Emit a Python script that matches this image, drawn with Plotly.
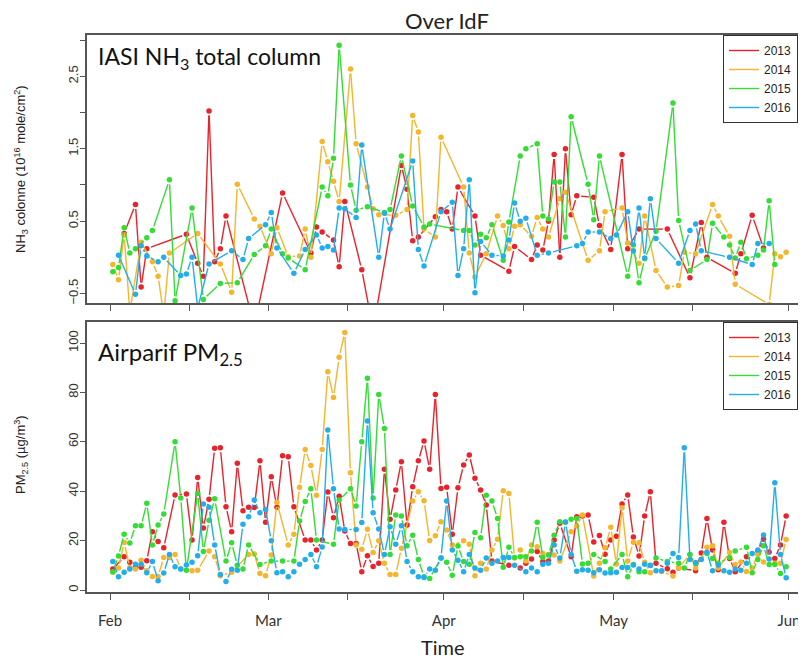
import math
from datetime import datetime, timedelta
import plotly.graph_objects as go

# ---------------- data (day index from 1 Feb, value) ----------------
years = ["2013", "2014", "2015", "2016"]
colors = ["#e8232b", "#f5b52c", "#33dd33", "#22aeea"]

nh3_2013_day = [2,4,5,6,13,15,16,17,18,19,20,25,30,35,36,37,39,40,41,44,46,51,52,53,54,57,58,59,60,61,64,65,70,71,74,75,76,77,78,79,80,81,82,85,86,88,90,91,93,98,102,104,105,110,111,113,115]
nh3_2013_val = [0.33,0.73,-0.41,0.12,0.32,-0.08,-0.26,2.02,-0.06,0.12,0.57,-0.95,0.89,0.06,0.42,0.35,0.24,-0.13,0.77,-0.17,-1.0,1.27,0.94,0.23,0.28,0.56,0.66,0.63,0.39,0.97,0.57,0.03,-0.19,0.15,-0.03,0.17,0.10,0.50,1.42,0.0,1.5,0.59,0.85,0.83,0.44,0.11,1.42,0.12,0.39,0.39,-0.28,0.48,0.0,-0.22,0.05,0.58,0.13]

nh3_2014_day = [0,1,2,3,5,7,8,9,10,15,19,21,22,25,26,28,29,31,33,34,35,37,38,39,40,42,43,45,46,47,50,52,53,54,55,57,58,62,63,64,66,68,69,70,71,72,74,75,76,77,79,80,84,86,87,90,91,93,94,96,98,100,101,103,106,107,109,110,116,117,118,119]
nh3_2014_val = [-0.10,-0.31,0.31,-0.75,0.21,-0.06,-0.26,-0.8,0.06,0.33,-0.09,-0.48,1.01,0.53,0.43,0.05,0.41,0.01,0.02,0.39,0.0,1.6,1.32,1.05,0.77,2.6,1.57,0.97,0.67,0.59,0.58,0.66,1.96,1.73,0.39,0.28,1.66,0.97,0.06,-0.27,0.05,0.57,0.44,0.12,0.43,0.45,0.29,0.55,0.39,0.28,0.81,0.9,-0.04,0.09,0.63,0.68,0.2,-0.08,0.57,-0.18,-0.41,-0.39,0.07,0.05,0.73,0.57,0.29,-0.37,-0.65,0.05,0.01,0.07]

nh3_2015_day = [0,1,2,3,4,6,7,10,11,14,16,19,22,25,27,28,30,31,34,37,38,39,40,42,43,45,48,49,51,53,55,56,62,63,64,65,66,67,69,70,72,73,75,76,77,78,79,80,81,84,85,86,91,92,93,94,96,99,100,102,105,106,108,109,110,111,112,114,115,116,117]
nh3_2015_val = [-0.20,-0.14,0.41,0.06,0.12,0.27,0.37,1.07,-0.6,0.68,-0.58,-0.36,-0.35,0.04,0.16,0.39,0.05,-0.01,-0.17,0.97,0.85,1.37,2.93,1.0,0.65,0.7,0.62,0.66,1.4,0.71,0.42,0.46,0.37,0.37,0.17,0.32,0.27,0.45,-0.04,0.49,1.4,1.5,1.57,0.57,0.53,1.04,1.04,0.28,1.94,1.01,0.52,1.4,-0.26,0.17,-0.35,-0.02,0.36,2.13,0.51,-0.18,-0.03,0.47,0.28,0.17,-0.01,0.21,-0.02,0.03,0.1,0.78,-0.1]

nh3_2016_day = [1,4,5,6,8,9,12,13,14,15,17,21,23,24,27,28,29,32,34,36,37,38,39,40,41,43,44,47,48,49,53,54,55,58,60,61,62,63,64,65,67,69,70,71,72,73,75,77,82,83,84,86,88,89,91,92,93,94,95,96,100,102,103,104,109,113,114,116]
nh3_2016_val = [0.03,-0.51,0.16,0.02,-0.06,0.0,-0.25,-0.23,0.0,-0.7,-0.09,0.09,-0.03,0.26,0.45,0.62,0.13,-0.22,0.11,0.31,0.13,0.15,0.1,0.68,0.67,0.55,1.55,0.0,0.61,0.39,1.33,0.11,-0.12,0.63,0.76,-0.25,0.12,1.07,-0.49,0.22,0.03,0.02,0.24,0.75,0.5,0.54,0.03,0.06,0.16,0.19,0.35,0.35,0.26,0.31,0.63,0.09,0.68,-0.01,0.81,0.26,-0.08,0.37,0.46,0.09,0.0,-0.10,0.19,0.19]

pm_2013_day = [0,2,3,4,5,6,7,8,9,11,13,14,15,16,17,18,19,20,21,22,23,24,25,26,27,28,29,30,31,32,34,35,36,37,38,39,40,41,42,43,44,45,46,47,48,49,50,51,52,53,54,55,56,57,58,59,60,61,62,63,64,65,66,67,70,72,73,74,75,76,77,78,79,81,82,83,84,85,86,87,88,89,90,91,92,93,94,95,96,98,99,100,103,104,105,106,107,108,109,110,112,114,115,116,117,118,119]
pm_2013_val = [8.5,13.5,11.2,9.1,9.2,11.8,23.6,19.6,17.1,38.5,38.9,20.2,45.6,25.1,36.7,57.4,57.6,33.7,23.6,51.3,32.1,33.5,33.4,52.3,27.4,45.9,33.5,54.4,54.0,33.7,20.2,20.2,16.2,20.2,39.7,29.3,38.0,23.9,18.8,18.8,7.4,13.9,9.5,10.8,48.9,28.6,40.5,51.9,26.3,41.8,52.3,60.3,48.9,79.2,41.1,41.6,22.6,41.4,50.6,54.7,45.2,40.5,34.4,11.7,10.0,8.9,10.8,12.6,15.6,11.5,11.7,20.2,27.0,13.5,29.7,30.0,30.4,19.4,22.1,14.5,20.2,21.8,34.8,38.5,21.5,13.8,30.0,39.8,10.8,8.6,7.2,8.9,7.8,15.0,29.0,16.2,8.2,27.4,12.8,7.4,13.5,15.8,20.6,15.4,12.8,18.2,30.0]

pm_2014_day = [0,1,2,3,4,5,6,7,8,9,10,11,12,14,15,17,18,19,21,24,25,26,27,28,29,31,32,33,34,35,36,37,38,39,40,41,42,43,44,45,46,47,48,49,50,51,53,54,55,56,57,58,59,60,62,63,64,65,66,67,68,69,70,71,72,73,74,75,76,77,78,79,81,82,83,85,86,87,88,89,90,91,92,93,94,95,97,99,100,102,103,105,106,107,109,110,111,112,113,114,115,117,118,119]
pm_2014_val = [7.2,8.9,19.2,9.1,8.5,12.1,7.8,5.5,5.5,13.2,13.2,14.4,8.5,7.8,8.0,15.8,13.5,5.8,7.2,14.4,14.6,6.7,5.8,14.2,35.5,18.2,22.6,41.6,56.9,50.4,38.4,56.9,88.4,77.9,94.2,104.3,47.5,18.2,16.5,24.6,15.2,19.9,10.8,6.3,6.3,16.9,36.0,39.8,36.1,20.0,22.0,27.6,24.3,18.2,19.9,18.5,5.8,10.8,8.5,16.2,20.6,40.2,39.1,13.0,16.2,11.7,18.2,17.5,14.8,14.4,14.2,11.7,23.6,25.9,30.4,5.7,10.8,17.1,25.4,10.5,33.3,11.7,19.3,19.1,11.2,7.0,7.5,5.7,8.9,14.4,8.9,17.3,17.9,8.9,15.2,10.3,11.3,7.5,8.9,14.4,11.3,10.8,10.8,20.5]

pm_2015_day = [0,1,2,3,4,5,6,7,8,9,11,12,13,15,16,17,18,20,21,22,23,24,26,28,30,32,33,34,35,36,39,40,42,43,44,45,46,47,48,49,50,51,52,53,54,55,56,58,59,60,61,62,63,64,65,66,67,68,69,70,71,72,73,74,75,76,77,78,79,80,81,82,83,84,85,87,88,90,91,92,93,94,95,96,98,100,101,102,103,105,106,107,109,110,112,113,114,115,116,117,118,119]
pm_2015_val = [7.4,13.8,22.6,19.0,26.0,26.0,35.1,18.2,26.3,30.8,60.0,37.3,8.0,39.1,15.6,28.2,36.9,11.7,19.1,10.0,8.5,18.2,10.3,11.7,11.7,11.7,27.9,35.8,41.0,20.2,18.5,36.4,41.0,34.0,60.0,85.7,37.3,79.2,65.4,14.4,30.4,30.0,17.9,22.2,12.4,5.4,4.7,13.0,11.2,6.0,17.8,11.5,10.4,23.3,21.2,38.4,36.0,29.0,9.2,17.3,13.2,13.5,13.5,15.8,27.4,13.2,14.2,22.2,27.6,27.4,28.7,29.0,10.5,10.8,14.4,11.5,8.5,14.4,5.4,10.3,7.4,7.4,10.0,13.0,11.5,10.8,8.9,14.4,10.7,14.8,12.8,10.8,13.2,15.8,17.3,7.0,12.4,17.9,10.3,10.3,6.7,9.4]

pm_2016_day = [0,1,2,3,4,5,6,7,8,9,10,11,12,13,14,15,16,17,18,19,20,21,22,23,24,25,26,27,28,29,30,31,32,33,34,35,36,37,38,39,40,41,43,44,45,46,47,48,49,50,51,52,53,54,55,56,57,58,59,60,61,62,63,64,65,66,67,68,69,70,71,73,74,75,76,77,78,79,80,81,82,83,84,85,86,87,88,89,90,91,92,93,94,95,96,97,98,99,100,101,102,103,104,105,106,107,108,109,110,111,112,113,114,115,116,117,118,119]
pm_2016_val = [11.5,5.4,7.2,8.5,10.4,10.4,7.0,11.5,3.8,6.9,14.4,9.4,8.5,10.1,11.2,13.9,34.8,33.5,18.2,6.3,3.4,8.4,8.0,26.6,29.7,36.4,31.3,32.6,19.9,7.0,7.4,5.4,7.4,10.4,12.4,14.4,9.4,17.4,64.8,41.0,24.7,24.5,24.5,27.3,68.4,31.3,24.7,14.4,25.6,18.5,26.0,11.5,7.4,5.4,5.1,8.5,8.0,13.0,36.0,16.2,12.1,7.4,14.4,8.9,8.0,13.0,10.8,11.7,13.2,13.2,10.0,7.4,8.9,7.4,10.4,10.8,18.2,13.0,27.5,14.4,7.6,8.2,8.0,7.0,8.2,6.9,7.0,7.2,9.1,9.1,10.1,8.5,10.4,9.9,7.8,7.8,10.8,14.8,13.2,57.6,12.4,11.1,12.4,15.3,7.8,10.1,7.8,7.2,8.5,8.0,10.8,14.8,16.2,22.3,12.6,43.4,14.4,5.0]

nh3_days = [nh3_2013_day, nh3_2014_day, nh3_2015_day, nh3_2016_day]
nh3_vals = [nh3_2013_val, nh3_2014_val, nh3_2015_val, nh3_2016_val]
pm_days = [pm_2013_day, pm_2014_day, pm_2015_day, pm_2016_day]
pm_vals = [pm_2013_val, pm_2014_val, pm_2015_val, pm_2016_val]

month_ticks = ["2013-02-01", "2013-03-01", "2013-04-01", "2013-05-01", "2013-06-01"]
month_labels = ["Feb", "Mar", "Apr", "May", "Jun"]
mid_ticks = ["2013-02-15", "2013-03-15", "2013-04-15", "2013-05-15"]
nh3_ticks = [-0.5, 0.5, 1.5, 2.5]
nh3_minor = [0.0, 1.0, 2.0, 3.0]
pm_ticks = [0, 20, 40, 60, 80, 100]

# ---------------- layout geometry ----------------
OFF = 8                               # page body margin
W, H = 798, 651                       # figure size (page is 806 x 667)
X0 = 87                               # plot left edge (page px)
TOP = (35, 303)                       # top panel (page px)
BOT = (322, 592)
BASE = datetime(2013, 2, 1, 12)
XRANGE = ["2013-01-27 22:26", "2013-06-04 00:15"]
NH3_RANGE = [-0.63, 3.07]
PM_RANGE = [-0.8, 108.5]
PX_PER_DAY = 5.658
GAP = 4.5                             # R "type = b" gap around points, px


def px(p):
    return (p - OFF) / W


def py(p):
    return 1 - (p - OFF) / H


def to_date(d):
    return BASE + timedelta(days=d)


def gapped_lines(days, vals, ppu):
    """segments between consecutive points, shortened like R type='b'"""
    xs, ys = [], []
    for i in range(len(days) - 1):
        d1, v1, d2, v2 = days[i], vals[i], days[i + 1], vals[i + 1]
        dx = (d2 - d1) * PX_PER_DAY
        dy = (v2 - v1) * ppu
        L = math.hypot(dx, dy)
        if L <= 2 * GAP + 1:
            continue
        f = GAP / L
        xs += [to_date(d1 + f * (d2 - d1)), to_date(d2 - f * (d2 - d1)), None]
        ys += [v1 + f * (v2 - v1), v2 - f * (v2 - v1), None]
    return xs, ys


top_ppu = (TOP[1] - TOP[0]) / (NH3_RANGE[1] - NH3_RANGE[0])
bot_ppu = (BOT[1] - BOT[0]) / (PM_RANGE[1] - PM_RANGE[0])

fig = go.Figure()
for days_l, vals_l, ppu, xa, ya, lg in [
        (nh3_days, nh3_vals, top_ppu, "x", "y", "legend"),
        (pm_days, pm_vals, bot_ppu, "x2", "y2", "legend2")]:
    for k in range(4):
        lx, ly = gapped_lines(days_l[k], vals_l[k], ppu)
        fig.add_trace(go.Scatter(
            x=lx, y=ly, mode="lines", name=years[k],
            line=dict(color=colors[k], width=1.4),
            connectgaps=False, xaxis=xa, yaxis=ya, legend=lg,
            hoverinfo="skip"))
        fig.add_trace(go.Scatter(
            x=[to_date(d) for d in days_l[k]], y=vals_l[k], mode="markers",
            marker=dict(color=colors[k], size=5.5, line=dict(width=0)),
            showlegend=False, xaxis=xa, yaxis=ya, name=years[k]))

axis_line = "#555555"
sans = "Liberation Sans, Arial, sans-serif"
tick_font = dict(family=sans, size=13, color="#333333")

common_x = dict(type="date", range=XRANGE, domain=[px(X0), 1.0],
                showgrid=False, zeroline=False, showline=True, mirror=True,
                linecolor=axis_line, linewidth=1.5, ticks="outside", ticklen=6,
                tickcolor=axis_line, tickwidth=1.2,
                tickmode="array", tickvals=month_ticks, ticktext=month_labels,
                minor=dict(tickmode="array", tickvals=mid_ticks, ticks="outside",
                           ticklen=6, tickcolor=axis_line, tickwidth=1.2, showgrid=False))

common_y = dict(showgrid=False, zeroline=False, showline=True, mirror=False,
                linecolor=axis_line, linewidth=1.5, ticks="outside", ticklen=5,
                tickcolor=axis_line, tickwidth=1.2, tickangle=-90, tickfont=tick_font,
                ticklabelstandoff=-3)

legend_style = dict(xanchor="left", yanchor="top", bgcolor="white",
                    bordercolor="#333333", borderwidth=1,
                    font=dict(family=sans, size=12, color="#222222"),
                    tracegroupgap=0, itemwidth=30)

fig.update_layout(
    width=W, height=H,
    margin=dict(l=0, r=0, t=0, b=0, autoexpand=False),
    paper_bgcolor="white", plot_bgcolor="white",
    xaxis=dict(**common_x, anchor="y", showticklabels=False),
    xaxis2=dict(**common_x, anchor="y2",
                tickfont=dict(family="Lato, sans-serif", size=15, color="#333333"),
                ticklabelstandoff=8),
    yaxis=dict(**common_y, domain=[py(TOP[1]), py(TOP[0])], range=NH3_RANGE, anchor="x",
               tickmode="array", tickvals=nh3_ticks,
               minor=dict(tickmode="array", tickvals=nh3_minor, ticks="outside",
                          ticklen=5, tickcolor=axis_line, tickwidth=1.2, showgrid=False)),
    yaxis2=dict(**common_y, domain=[py(BOT[1]), py(BOT[0])], range=PM_RANGE, anchor="x2",
                tickmode="array", tickvals=pm_ticks),
    legend=dict(x=px(723), y=py(35), **legend_style),
    legend2=dict(x=px(723), y=py(322), **legend_style),
    showlegend=True,
)

ann_font = "Lato, sans-serif"


def note(text, x, y, size, family=ann_font, xanchor="center", angle=0, color="#222222"):
    fig.add_annotation(text=text, x=px(x), y=py(y), xref="paper", yref="paper",
                       xanchor=xanchor, yanchor="middle", textangle=angle,
                       showarrow=False, font=dict(family=family, size=size, color=color))


note("Over IdF", 447, 20, 22)
note("Time", 443, 647, 20)
note("IASI NH<sub>3</sub> total column", 96, 57, 23, xanchor="left", color="#111111")
note("Airparif PM<sub>2.5</sub>", 96, 353, 24, xanchor="left", color="#111111")
note("NH<sub>3</sub> colonne (10<sup>16</sup> mole/cm<sup>2</sup>)", 21, 169, 13,
     family=sans, angle=-90)
note("PM<sub>2.5</sub> (µg/m<sup>3</sup>)", 21, 455, 13, family=sans, angle=-90)

fig.write_html("out.html")
